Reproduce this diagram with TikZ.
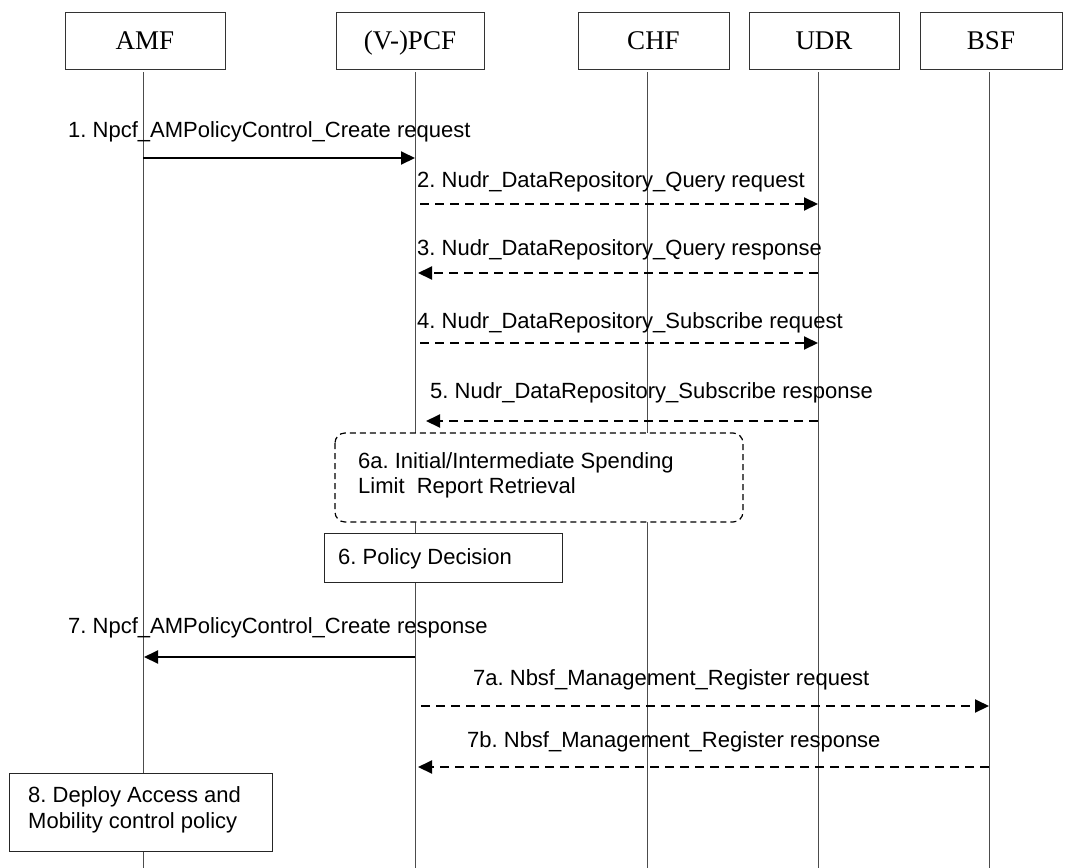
\documentclass[tikz,border=0pt]{standalone}
\usepackage{fontspec}
\setmainfont{Liberation Serif}
\newfontfamily\arialf{Liberation Sans}
\usetikzlibrary{arrows.meta}
\frenchspacing
\begin{document}
\begin{tikzpicture}[x=1pt,y=-1pt,
  hdr/.style={draw=black!80,line width=0.9pt,fill=white,minimum width=160pt,minimum height=57pt,inner sep=0pt,text height=21pt,text depth=3pt,font=\fontsize{27}{30}\selectfont},
  life/.style={draw=black!70,line width=1pt},
  lbl/.style={anchor=base west,inner sep=0pt,font=\arialf\fontsize{22}{25}\selectfont},
  msg/.style={line width=2pt,-{Triangle[length=14pt,width=13pt]}},
  dmsg/.style={msg,dash pattern=on 9pt off 6pt},
  stepbox/.style={draw=black!85,line width=1pt,fill=white,inner sep=0pt},
  btxt/.style={anchor=base west,inner sep=0pt,font=\arialf\fontsize{22}{25}\selectfont,align=left}
]
\useasboundingbox[fill=white] (0,0) rectangle (1080,868);
% headers
\node[hdr,minimum width=160pt] (amf) at (145,40.5) {AMF};
\node[hdr,minimum width=148pt] (pcf) at (410,40.5) {(V-)PCF};
\node[hdr,minimum width=151pt] (chf) at (653.5,40.5) {CHF};
\node[hdr,minimum width=150pt] (udr) at (824,40.5) {UDR};
\node[hdr,minimum width=142pt] (bsf) at (991,40.5) {BSF};
% lifeline ends
\coordinate (amfE) at (143,868);
\coordinate (pcfE) at (415,868);
\coordinate (chfE) at (647,868);
\coordinate (udrE) at (818,868);
\coordinate (bsfE) at (989,868);
\coordinate (amfS) at (143,72);
\coordinate (pcfS) at (415,72);
\coordinate (chfS) at (647,72);
\coordinate (udrS) at (818,72);
\coordinate (bsfS) at (989,72);
\draw[life] (amfS) -- (amfE);
\draw[life] (pcfS) -- (pcfE);
\draw[life] (chfS) -- (chfE);
\draw[life] (udrS) -- (udrE);
\draw[life] (bsfS) -- (bsfE);
% message 1
\node[lbl] (l1) at (68,137) {1. Npcf\_AMPolicyControl\_Create request};
\coordinate (m1a) at (143,158); \coordinate (m1b) at (415,158);
\draw[msg] (m1a) -- (m1b);
% 2
\node[lbl] (l2) at (417,187) {2. Nudr\_DataRepository\_Query request};
\coordinate (m2a) at (420,204); \coordinate (m2b) at (818,204);
\draw[dmsg] (m2a) -- (m2b);
% 3
\node[lbl] (l3) at (417,255) {3. Nudr\_DataRepository\_Query response};
\coordinate (m3a) at (818,273); \coordinate (m3b) at (418,273);
\draw[dmsg] (m3a) -- (m3b);
% 4
\node[lbl] (l4) at (417,328) {4. Nudr\_DataRepository\_Subscribe request};
\coordinate (m4a) at (420,343); \coordinate (m4b) at (818,343);
\draw[dmsg] (m4a) -- (m4b);
% 5
\node[lbl] (l5) at (430,398) {5. Nudr\_DataRepository\_Subscribe response};
\coordinate (m5a) at (818,421); \coordinate (m5b) at (426,421);
\draw[dmsg] (m5a) -- (m5b);
% 6a
\draw[line width=1.2pt,dash pattern=on 6pt off 4pt,rounded corners=10pt,fill=white] (335,433) rectangle (743,522);
\node[btxt] (t6a) at (358,468) {6a. Initial/Intermediate Spending};
\node[btxt] (t6b) at (358,493) {Limit\ \ Report Retrieval};
% 6
\draw[stepbox] (324,533) rectangle (562,582);
\node[btxt] (t6) at (338,564) {6. Policy Decision};
% 7
\node[lbl] (l7) at (68,633) {7. Npcf\_AMPolicyControl\_Create response};
\coordinate (m7a) at (415,657); \coordinate (m7b) at (144,657);
\draw[msg] (m7a) -- (m7b);
% 7a
\node[lbl] (l7a) at (473,685) {7a. Nbsf\_Management\_Register request};
\coordinate (m7aa) at (421,706); \coordinate (m7ab) at (989,706);
\draw[dmsg] (m7aa) -- (m7ab);
% 7b
\node[lbl] (l7b) at (467,747) {7b. Nbsf\_Management\_Register response};
\coordinate (m7ba) at (989,767); \coordinate (m7bb) at (418,767);
\draw[dmsg] (m7ba) -- (m7bb);
% 8
\draw[stepbox] (9,773) rectangle (272,851);
\node[btxt] (t8a) at (28,802) {8. Deploy Access and};
\node[btxt] (t8b) at (28,828) {Mobility control policy};
\end{tikzpicture}
\end{document}
